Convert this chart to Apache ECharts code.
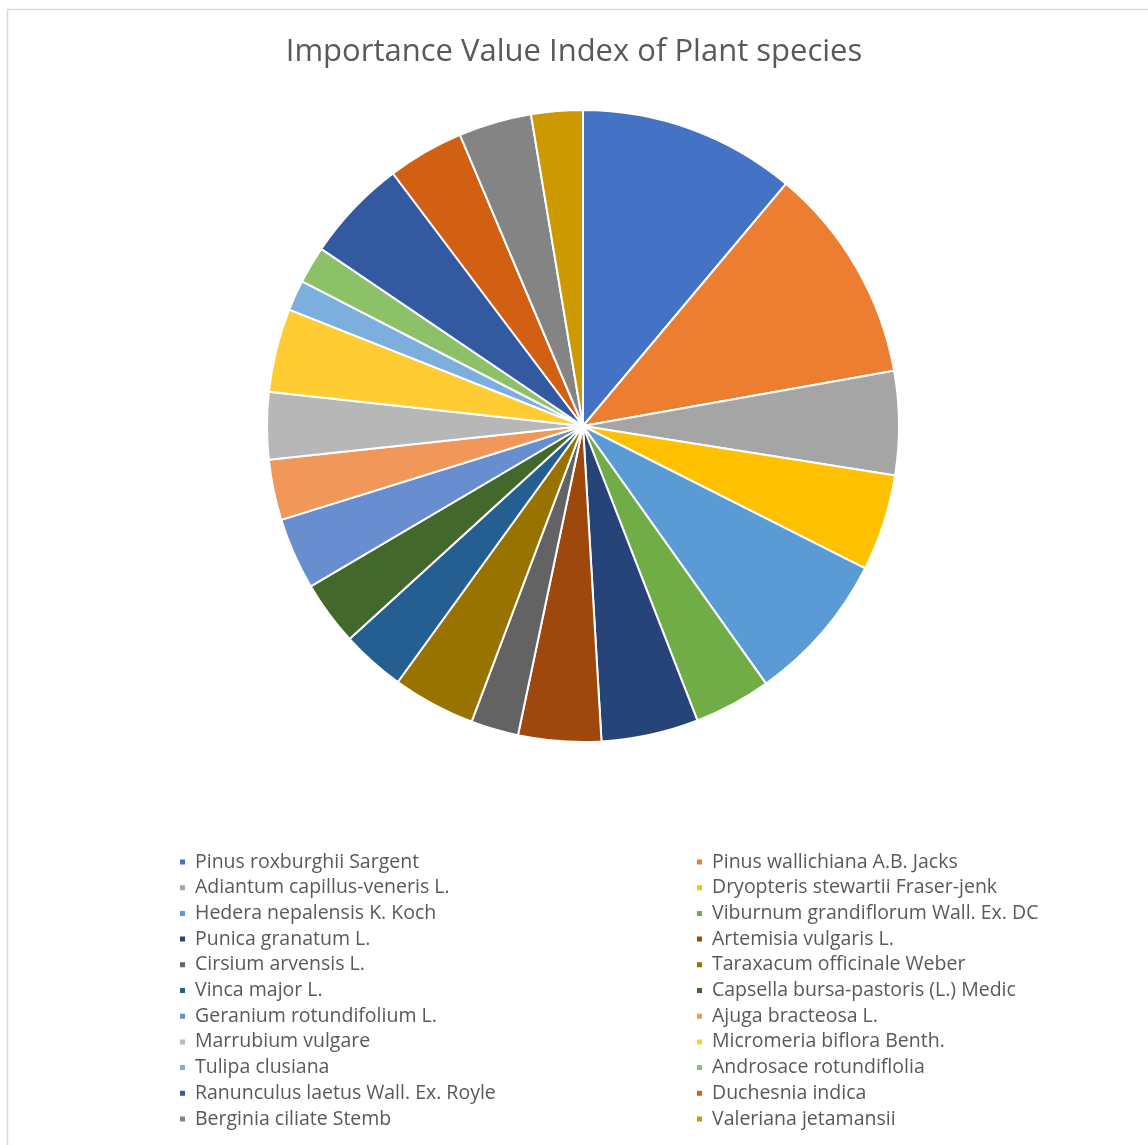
<!DOCTYPE html>
<html>
<head>
<meta charset="utf-8">
<script src="https://cdn.jsdelivr.net/npm/echarts@6/dist/echarts.min.js"></script>
<style>
  html, body { margin: 0; padding: 0; background: #ffffff; }
  #chart { width: 1148px; height: 1145px; }
</style>
</head>
<body>
<div id="chart"></div>
<script>
// Species, in drawing order (clockwise from 12 o'clock)
const species = [
  'Pinus roxburghii Sargent',
  'Pinus wallichiana A.B. Jacks',
  'Adiantum capillus-veneris L.',
  'Dryopteris stewartii Fraser-jenk',
  'Hedera nepalensis K. Koch',
  'Viburnum grandiflorum Wall. Ex. DC',
  'Punica granatum L.',
  'Artemisia vulgaris L.',
  'Cirsium arvensis L.',
  'Taraxacum officinale Weber',
  'Vinca major L.',
  'Capsella bursa-pastoris (L.) Medic',
  'Geranium rotundifolium L.',
  'Ajuga bracteosa L.',
  'Marrubium vulgare',
  'Micromeria biflora Benth.',
  'Tulipa clusiana',
  'Androsace rotundiflolia',
  'Ranunculus laetus Wall. Ex. Royle',
  'Duchesnia indica',
  'Berginia ciliate Stemb',
  'Valeriana jetamansii'
];

// Importance Value Index of each species
const ivi = [
  33.3, 33.3, 15.9, 14.8, 23.2, 11.8, 14.9, 12.7, 7.3, 12.7, 9.8,
  9.9, 11.0, 9.3, 10.3, 12.8, 4.7, 5.7, 15.8, 11.7, 11.2, 7.9
];

// Office-style palette, one colour per species
const palette = [
  '#4472C4', '#ED7D31', '#A5A5A5', '#FFC000', '#5B9BD5', '#70AD47',
  '#264478', '#9E480E', '#636363', '#997300', '#255E91', '#43682B',
  '#698ED0', '#F1975A', '#B7B7B7', '#FFCD33', '#7CAFDD', '#8CC168',
  '#335AA1', '#D26012', '#848484', '#CC9A00'
];

const title = 'Importance Value Index of Plant species';

const chart = echarts.init(document.getElementById('chart'), null, { renderer: 'canvas' });

const leftNames = species.filter((_, i) => i % 2 === 0);
const rightNames = species.filter((_, i) => i % 2 === 1);

const legendBase = {
  orient: 'vertical',
  top: 852,
  padding: 0,
  icon: 'rect',
  itemWidth: 7,
  itemHeight: 7,
  itemGap: 5.7,
  selectedMode: false,
  textStyle: {
    fontFamily: 'Open Sans',
    fontSize: 19.5,
    lineHeight: 20,
    color: '#595959',
    padding: [0, 0, 0, 4]
  }
};

chart.setOption({
  animation: false,
  color: palette,
  title: {
    text: title,
    left: 'center',
    top: 32,
    textStyle: {
      fontFamily: 'Open Sans',
      fontSize: 31,
      fontWeight: 'normal',
      color: '#595959'
    }
  },
  graphic: [
    {
      type: 'polyline',
      shape: { points: [[7.5, 1145], [7.5, 9.5], [1148, 9.5]] },
      style: { stroke: '#d9d9d9', lineWidth: 1.5, fill: null },
      silent: true
    }
  ],
  legend: [
    Object.assign({}, legendBase, { left: 178, data: leftNames }),
    Object.assign({}, legendBase, { left: 695, data: rightNames })
  ],
  series: [
    {
      type: 'pie',
      center: [583, 426],
      radius: 316,
      startAngle: 90,
      clockwise: true,
      label: { show: false },
      labelLine: { show: false },
      emphasis: { disabled: true },
      itemStyle: { borderColor: '#ffffff', borderWidth: 2 },
      data: species.map((name, i) => ({ name: name, value: ivi[i] }))
    }
  ]
});
</script>
</body>
</html>
